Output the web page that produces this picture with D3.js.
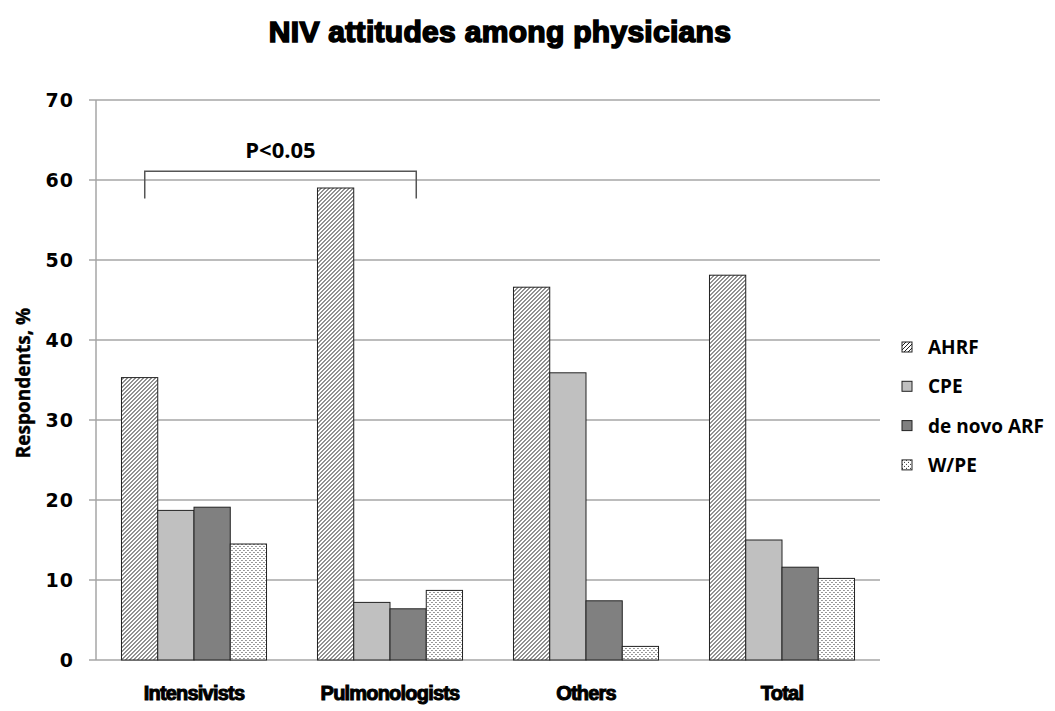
<!DOCTYPE html>
<html>
<head>
<meta charset="utf-8">
<script src="https://cdn.jsdelivr.net/npm/d3@7/dist/d3.min.js"></script>
<style>
  body { margin: 0; background: #fff; }
  svg { display: block; }
</style>
</head>
<body>
<div id="chart"></div>
<script>
// data
const categories = ["Intensivists", "Pulmonologists", "Others", "Total"];
const seriesNames = ["AHRF", "CPE", "de novo ARF", "W/PE"];
const ahrf = [35.3, 59.0, 46.6, 48.1];
const cpe = [18.7, 7.2, 35.9, 15.0];
const deNovo = [19.1, 6.4, 7.4, 11.6];
const wpe = [14.5, 8.7, 1.7, 10.2];
const yTicks = [0, 10, 20, 30, 40, 50, 60, 70];

const series = [ahrf, cpe, deNovo, wpe];
const fills = ["url(#hatch)", "#c0c0c0", "#808080", "url(#dots)"];

const W = 1055, H = 711;
const plotLeft = 96, plotRight = 880, plotTop = 100, plotBottom = 660;

var svg = d3.select('#chart')
    .append('svg')
    .attr('width', W)
    .attr('height', H)

var defs = svg.append('defs');
var hatch = defs.append('pattern')
    .attr('id', 'hatch')
    .attr('patternUnits', 'userSpaceOnUse')
    .attr('width', 4).attr('height', 4)
hatch.append('rect').attr('width', 4).attr('height', 4).attr('fill', '#fff')
hatch.append('path')
    .attr('d', 'M-1,1 l2,-2 M0,4 l4,-4 M3,5 l2,-2')
    .attr('stroke', '#222').attr('stroke-width', 1)

var dots = defs.append('pattern')
    .attr('id', 'dots')
    .attr('patternUnits', 'userSpaceOnUse')
    .attr('width', 4).attr('height', 4)
dots.append('rect').attr('width', 4).attr('height', 4).attr('fill', '#fff')
dots.append('rect').attr('x', 0).attr('y', 0).attr('width', 1).attr('height', 1).attr('fill', '#333')
dots.append('rect').attr('x', 2).attr('y', 2).attr('width', 1).attr('height', 1).attr('fill', '#333')

var y = d3.scaleLinear().domain([0, 70]).range([plotBottom, plotTop]);
var x0 = d3.scaleBand().domain(categories).range([plotLeft, plotRight]).paddingInner(0.26).paddingOuter(0.13);
var x1 = d3.scaleBand().domain(seriesNames).range([0, x0.bandwidth()]);

// gridlines
svg.append('g')
    .selectAll('line')
    .data(yTicks)
    .join('line')
    .attr('x1', plotLeft - 7).attr('x2', plotRight)
    .attr('y1', d => y(d)).attr('y2', d => y(d))
    .attr('stroke', '#a6a6a6').attr('stroke-width', 1.5)

svg.append('line')
    .attr('x1', plotLeft).attr('x2', plotLeft)
    .attr('y1', plotTop).attr('y2', plotBottom)
    .attr('stroke', '#a6a6a6').attr('stroke-width', 1.5)

svg.append('g')
    .selectAll('text')
    .data(yTicks)
    .join('text')
    .attr('x', 74).attr('y', d => y(d) + 7)
    .attr('text-anchor', 'end')
    .style('font-family', 'DejaVu Sans')
    .style('font-weight', 'bold')
    .style('font-size', '19px')
    .style('letter-spacing', '1px')
    .text(d => d)

svg.append('text')
    .attr('transform', 'translate(30,383) rotate(-90)')
    .attr('text-anchor', 'middle')
    .style('font-family', 'Open Sans')
    .style('font-weight', 'bold')
    .style('font-size', '19px')
    .style('stroke', '#000').style('stroke-width', 0.4)
    .text('Respondents, %')

// bars
var groups = svg.append('g')
    .selectAll('g')
    .data(categories)
    .join('g')
    .attr('transform', d => 'translate(' + x0(d) + ',0)')

groups.selectAll('rect')
    .data((c, i) => seriesNames.map((s, j) => ({ s: s, j: j, v: series[j][i] })))
    .join('rect')
    .attr('x', d => x1(d.s))
    .attr('width', x1.bandwidth())
    .attr('y', d => y(d.v))
    .attr('height', d => y(0) - y(d.v))
    .attr('fill', d => fills[d.j])
    .attr('stroke', '#222').attr('stroke-width', 1)

// category labels
svg.append('g')
    .selectAll('text')
    .data(categories)
    .join('text')
    .attr('x', d => x0(d) + x0.bandwidth() / 2)
    .attr('y', 700)
    .attr('text-anchor', 'middle')
    .style('font-family', 'Liberation Sans')
    .style('font-weight', 'bold')
    .style('font-size', '20px')
    .style('letter-spacing', '-0.8px')
    .style('stroke', '#000').style('stroke-width', 1)
    .text(d => d)

// significance bracket
var bx1 = x0(categories[0]) + x1("CPE") - 13, bx2 = x0(categories[1]) + x1("W/PE") - 10;
svg.append('path')
    .attr('d', 'M' + bx1 + ',' + y(57.7) + ' V' + y(61.1) + ' H' + bx2 + ' V' + y(57.7))
    .attr('fill', 'none').attr('stroke', '#555').attr('stroke-width', 1.5)
svg.append('text')
    .attr('x', (bx1 + bx2) / 2).attr('y', 158)
    .attr('text-anchor', 'middle')
    .style('font-family', 'Open Sans')
    .style('font-weight', 'bold')
    .style('font-size', '22px')
    .text('P<0.05')

// title
svg.append('text')
    .attr('x', 500).attr('y', 42)
    .attr('text-anchor', 'middle')
    .style('font-family', 'Liberation Sans')
    .style('font-weight', '900')
    .style('font-size', '30px')
    .style('letter-spacing', '0.3px')
    .style('stroke', '#000').style('stroke-width', 1.6)
    .text('NIV attitudes among physicians')

// legend
var legend = svg.append('g')
    .selectAll('g')
    .data(seriesNames)
    .join('g')
    .attr('transform', (d, i) => 'translate(902,' + (342 + i * 39.3) + ')')
legend.append('rect')
    .attr('width', 10).attr('height', 10)
    .attr('fill', (d, i) => fills[i])
    .attr('stroke', '#222').attr('stroke-width', 1)
legend.append('text')
    .attr('x', 26).attr('y', 12)
    .style('font-family', 'Open Sans')
    .style('font-weight', 'bold')
    .style('font-size', '19px')
    .text(d => d)
</script>
</body>
</html>
